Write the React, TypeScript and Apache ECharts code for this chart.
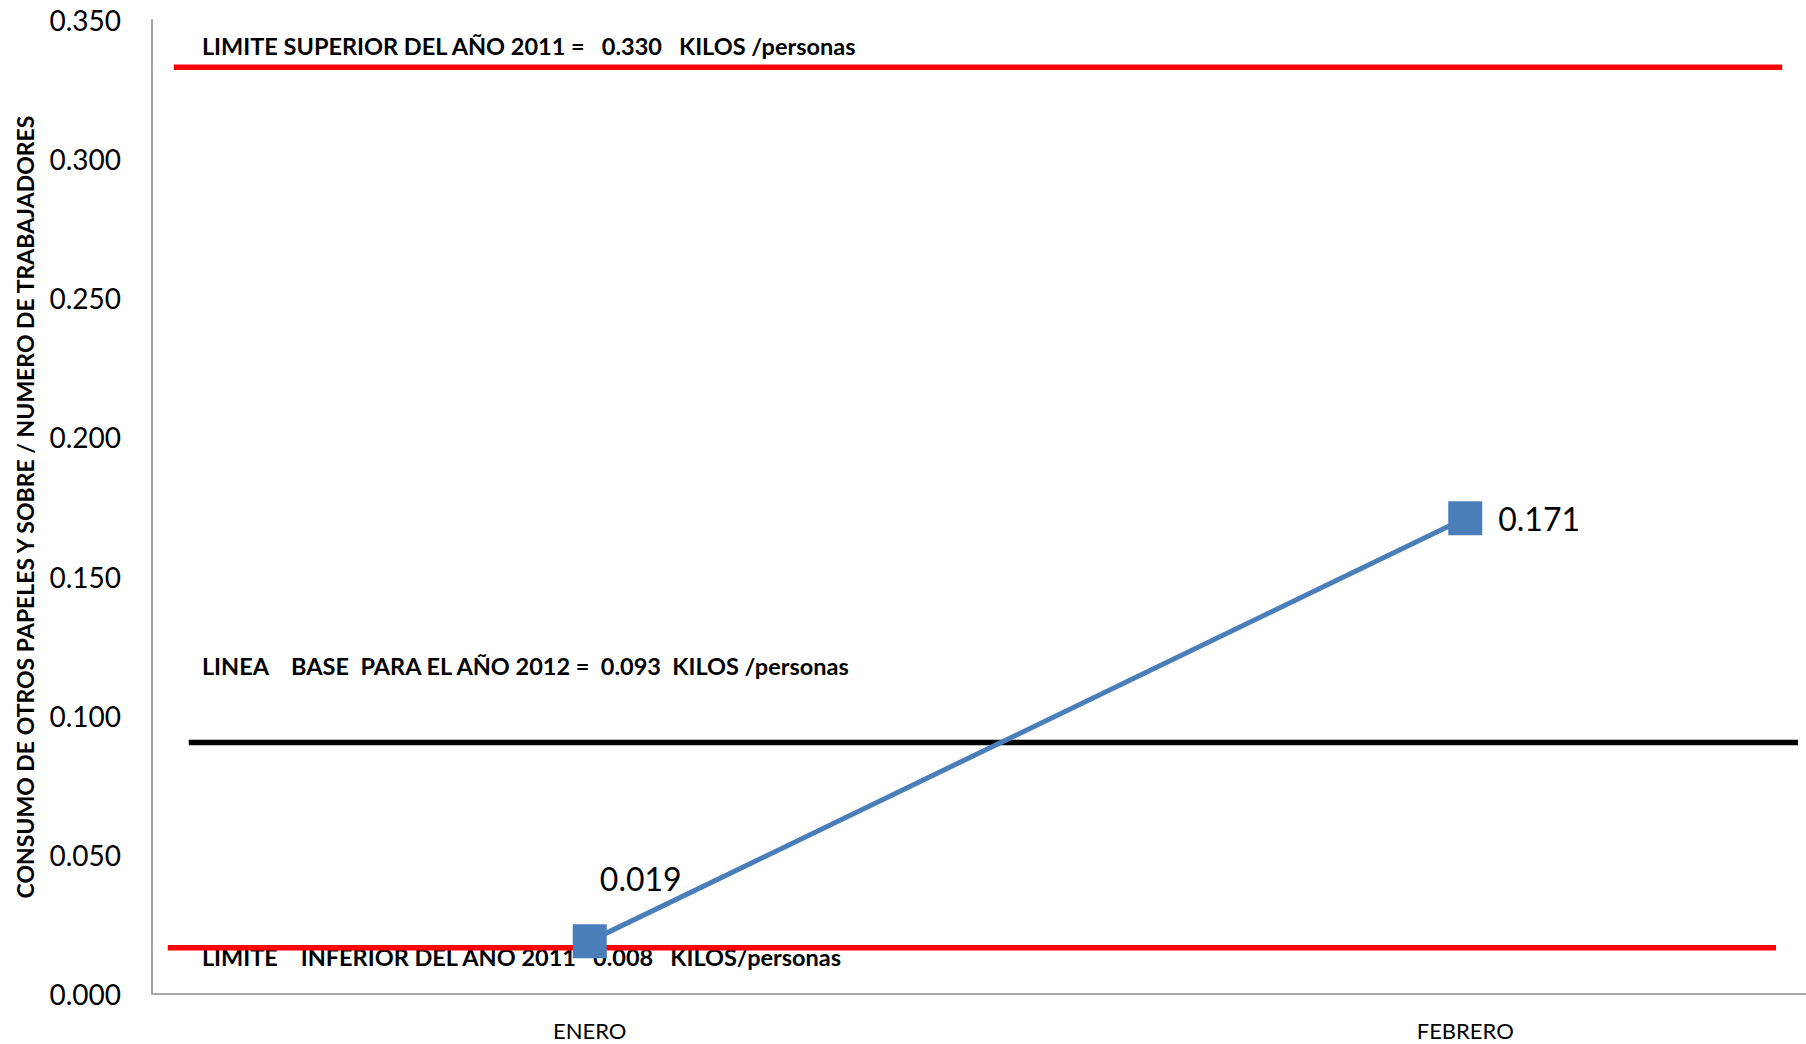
import React, { useEffect, useRef } from "react";
import * as echarts from "echarts";

// ---- data ----
const categories = ["ENERO", "FEBRERO"];
const consumo = [0.019, 0.171];
const yTicks = { min: 0, max: 0.35, interval: 0.05 };
const yAxisName = "CONSUMO DE OTROS PAPELES Y SOBRE / NUMERO DE TRABAJADORES";

// horizontal reference lines, as drawn (level) and their span in band units (0..2)
const refNames = ["LIMITE SUPERIOR", "LINEA BASE", "LIMITE INFERIOR"];
const refLevels = [0.333, 0.0904, 0.0166];
const refStart = [0.025, 0.042, 0.018];
const refEnd = [1.862, 1.88, 1.855];
const refColors = ["#FF0000", "#000000", "#FF0000"];
const refTexts = [
  "LIMITE SUPERIOR DEL AÑO 2011 =   0.330   KILOS /personas",
  "LINEA    BASE  PARA EL AÑO 2012 =  0.093  KILOS /personas",
  "LIMITE    INFERIOR DEL AÑO 2011   0.008   KILOS/personas",
];
// text rows in value space (centre of each annotation)
const refTextLevels = [0.3405, 0.1177, 0.0133];
const refTextX = 0.057;

export default function App() {
  const ref = useRef<HTMLDivElement>(null);
  useEffect(() => {
    if (!ref.current) return;
    const chart = echarts.init(ref.current, null, { renderer: "svg" });
    const font = "Lato, 'Open Sans', sans-serif";
    const option: any = {
      animation: false,
      backgroundColor: "#ffffff",
      grid: { left: 152, top: 20, right: 0, height: 974, containLabel: false },
      xAxis: [
        {
          type: "category",
          data: categories,
          boundaryGap: true,
          axisLine: { show: true, lineStyle: { color: "#A6A6A6", width: 2 } },
          axisTick: { show: false },
          axisLabel: { color: "#000", fontFamily: font, fontSize: 22, margin: 25 },
          splitLine: { show: false },
        },
        { type: "value", min: 0, max: 2, show: false },
      ],
      yAxis: {
        type: "value",
        min: yTicks.min,
        max: yTicks.max,
        interval: yTicks.interval,
        name: yAxisName,
        nameLocation: "middle",
        nameGap: 116,
        nameRotate: 90,
        nameTextStyle: { color: "#000", fontFamily: font, fontWeight: "bold", fontSize: 23 },
        axisLine: { show: true, lineStyle: { color: "#A6A6A6", width: 2 } },
        axisTick: { show: false },
        splitLine: { show: false },
        axisLabel: {
          color: "#000",
          fontFamily: font,
          fontSize: 28,
          margin: 31,
          formatter: (v: number) => v.toFixed(3),
        },
      },
      series: [
        ...refLevels.map((lv, i) => ({
          name: refNames[i],
          type: "line",
          xAxisIndex: 1,
          symbol: "none",
          silent: true,
          z: 2,
          lineStyle: { color: refColors[i], width: 5.5 },
          data: [
            [refStart[i], lv],
            [refEnd[i], lv],
          ],
        })),
        {
          name: "Consumo",
          type: "line",
          xAxisIndex: 0,
          z: 5,
          symbol: "rect",
          symbolSize: 34,
          lineStyle: { color: "#4A7EBB", width: 5 },
          itemStyle: { color: "#4A7EBB" },
          data: consumo.map((v, i) => ({
            value: v,
            label:
              i === 0
                ? { show: true, position: "top", distance: 30, offset: [51, 0] }
                : { show: true, position: "right", distance: 16, offset: [0, 0] },
          })),
          label: {
            show: true,
            color: "#000",
            fontFamily: font,
            fontSize: 32,
            formatter: (p: any) => Number(p.value).toFixed(3),
          },
        },
      ],
    };
    chart.setOption(option);
    const texts = refTexts.map((t, i) => {
      const [px, py] = chart.convertToPixel({ xAxisIndex: 1, yAxisIndex: 0 }, [refTextX, refTextLevels[i]]);
      return {
        type: "text",
        x: px,
        y: py,
        z: 1,
        style: {
          text: t,
          fill: "#000",
          font: `bold 23.5px ${font}`,
          verticalAlign: "middle",
          align: "left",
        },
      };
    });
    chart.setOption({ graphic: texts });
    return () => chart.dispose();
  }, []);
  return (
    <div style={{ position: "absolute", left: 0, top: 0, width: 1806, height: 1044, overflow: "hidden" }}>
      <div ref={ref} style={{ width: 1903, height: 1044 }} />
    </div>
  );
}
